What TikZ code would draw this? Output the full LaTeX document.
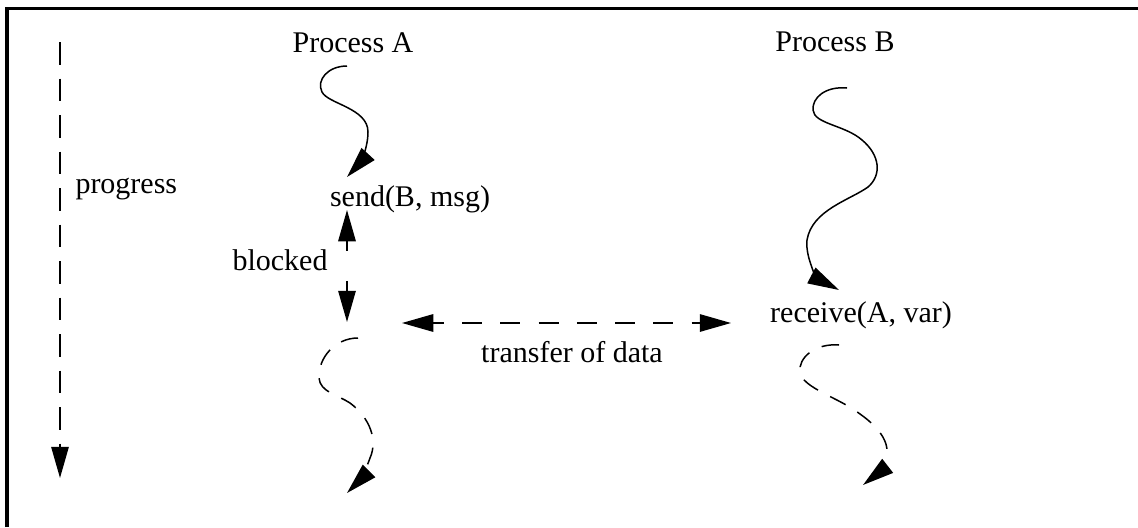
\documentclass[tikz,border=0pt]{standalone}
\usepackage{fontspec}
\setmainfont{Liberation Serif}
\usetikzlibrary{positioning}
\usetikzlibrary{arrows.meta}
\tikzstyle{label1} = [inner sep=0pt, font=\fontsize{12pt}{14pt}\selectfont]
\tikzstyle{flow} = [line width=0.6pt, -{Triangle[length=12.5pt,width=7pt]}]
\tikzstyle{flowdash} = [flow, dash pattern=on 7pt off 5.5pt]

\begin{document}
\begin{tikzpicture}[x=0.4pt,y=-0.4pt]
			\useasboundingbox (0,0) rectangle (1138,527);
			\draw[line width=1.3pt] (7,527) -- (7,8.5) -- (1138,8.5);
			% labels
			\node[label1, anchor=base](procA) at (353,52){Process A};
			\node[label1, anchor=base](procB) at (835,51){Process B};
			\node[label1, anchor=base](send) at (410,206){send(B, msg)};
			\node[label1, anchor=base](recv) at (861,322){receive(A, var)};
			\node[label1, anchor=base east](blocked) at (328,270){blocked};
			\node[label1, anchor=base west](progress) at (75,193){progress};
			\node[label1, anchor=base](transfer) at (572,362){transfer of data};
			% end points
			\coordinate (p0) at (60,42);
			\coordinate (p1) at (60,478);
			\coordinate (b0) at (347,210);
			\coordinate (b1) at (347,322);
			\coordinate (t0) at (402,323);
			\coordinate (t1) at (731,323);
			\coordinate (a0) at (347,66);
			\coordinate (a1) at (347,177);
			\coordinate (a2) at (358,338);
			\coordinate (a3) at (347,493);
			\coordinate (c0) at (847,88);
			\coordinate (c1) at (839,290);
			\coordinate (c2) at (839,345);
			\coordinate (c3) at (863,485);
			% arrows
			\draw[flow, dash pattern=on 9pt off 5.6pt] (p0) -- (p1);
			\draw[flow, {Triangle[length=12.5pt,width=7pt]}-{Triangle[length=12.5pt,width=7pt]}, dash pattern=on 4pt off 12pt] (b0) -- (b1);
			\draw[flow, {Triangle[length=12.5pt,width=7pt]}-{Triangle[length=12.5pt,width=7pt]}, dash pattern=on 8pt off 7.3pt, dash phase=3.6pt] (t0) -- (t1);
			\draw[flow] (a0) .. controls (328,66) and (316,80) .. (322,92) .. controls (328,104) and (368,108) .. (368,132) .. controls (368,150) and (358,165) .. (a1);
			\draw[flowdash] (a2) .. controls (335,338) and (318,358) .. (319,378) .. controls (320,392) and (338,395) .. (350,403) .. controls (370,418) and (378,440) .. (370,458) .. controls (366,470) and (358,482) .. (a3);
			\draw[flow] (c0) .. controls (825,86) and (812,98) .. (813,110) .. controls (814,124) and (845,125) .. (862,140) .. controls (880,155) and (882,175) .. (868,187) .. controls (850,200) and (812,210) .. (807,240) .. controls (805,260) and (820,280) .. (c1);
			\draw[flowdash] (c2) .. controls (815,343) and (798,358) .. (800,372) .. controls (802,388) and (840,398) .. (860,414) .. controls (880,428) and (892,445) .. (885,460) .. controls (880,470) and (872,478) .. (c3);
		\end{tikzpicture}
\end{document}
